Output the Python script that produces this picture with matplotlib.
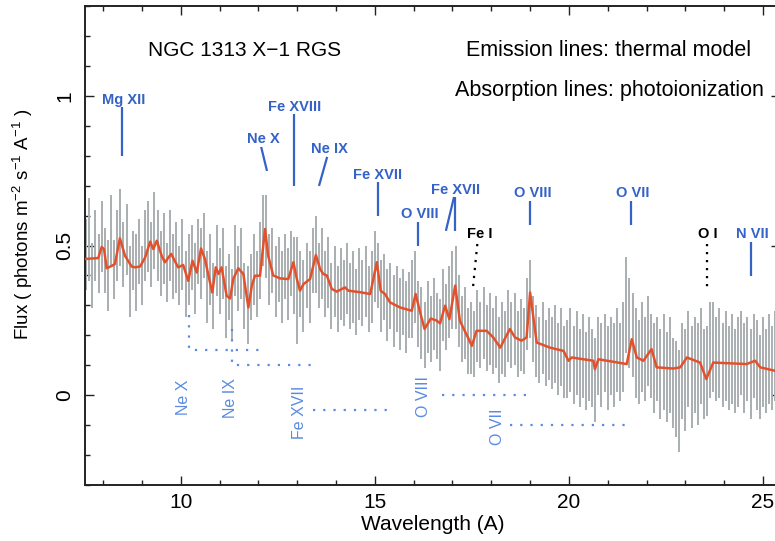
import matplotlib
matplotlib.use('Agg')
import matplotlib.pyplot as plt
import numpy as np

plt.rcParams['font.family'] = ['Liberation Sans', 'DejaVu Sans']
plt.rcParams['mathtext.fontset'] = 'custom'
plt.rcParams['mathtext.rm'] = 'Liberation Sans'
plt.rcParams['mathtext.default'] = 'regular'

# RGS data: bin centres start at 7.56 A, 0.08 A apart
wl_start = 7.56
wl_step = 0.08
flux = [
    0.47, 0.52, 0.40, 0.50, 0.44, 0.53, 0.45, 0.40, 0.55, 0.42,
    0.50, 0.56, 0.47, 0.52, 0.38, 0.45, 0.41, 0.48, 0.40, 0.50,
    0.53, 0.47, 0.55, 0.50, 0.44, 0.49, 0.41, 0.50, 0.43, 0.46,
    0.40, 0.47, 0.37, 0.42, 0.46, 0.39, 0.48, 0.44, 0.50, 0.36,
    0.42, 0.33, 0.45, 0.38, 0.44, 0.31, 0.36, 0.30, 0.45, 0.39,
    0.44, 0.33, 0.30, 0.36, 0.42, 0.37, 0.45, 0.55, 0.53, 0.42,
    0.45, 0.38, 0.42, 0.36, 0.43, 0.37, 0.44, 0.40, 0.35, 0.37,
    0.33, 0.40, 0.36, 0.45, 0.47, 0.40, 0.44, 0.37, 0.41, 0.33,
    0.38, 0.32, 0.37, 0.34, 0.39, 0.33, 0.36, 0.31, 0.37, 0.34,
    0.38, 0.32, 0.36, 0.43, 0.40, 0.33, 0.36, 0.30, 0.33, 0.28,
    0.32, 0.27, 0.31, 0.26, 0.30, 0.32, 0.36, 0.27, 0.24, 0.20,
    0.26, 0.22, 0.27, 0.23, 0.20, 0.30, 0.26, 0.31, 0.35, 0.36,
    0.28, 0.22, 0.24, 0.18, 0.19, 0.17, 0.23, 0.20, 0.24, 0.19,
    0.22, 0.18, 0.21, 0.15, 0.19, 0.17, 0.23, 0.20, 0.22, 0.17,
    0.20, 0.18, 0.27, 0.32, 0.22, 0.18, 0.15, 0.19, 0.14, 0.17,
    0.14, 0.17, 0.12, 0.16, 0.11, 0.12, 0.15, 0.10, 0.14, 0.09,
    0.13, 0.08, 0.12, 0.09, 0.05, 0.13, 0.10, 0.14, 0.09, 0.13,
    0.10, 0.15, 0.11, 0.16, 0.30, 0.24, 0.20, 0.14, 0.11, 0.16,
    0.12, 0.18, 0.13, 0.09, 0.12, 0.07, 0.11, 0.06, 0.10, 0.04,
    0.02, -0.02, 0.08, 0.05, 0.12, 0.06, 0.10, 0.07, 0.13, 0.07,
    0.08, 0.15, 0.16, 0.12, 0.14, 0.10, 0.13, 0.09, 0.12, 0.08,
    0.11, 0.14, 0.09, 0.12, 0.07, 0.13, 0.10, 0.06, 0.11, 0.08,
    0.12, 0.09, 0.13, 0.10,
]
flux_err = [
    0.12, 0.14, 0.11, 0.12, 0.10, 0.12, 0.11, 0.12, 0.12, 0.10,
    0.12, 0.13, 0.11, 0.12, 0.12, 0.10, 0.13, 0.11, 0.10, 0.12,
    0.12, 0.11, 0.13, 0.12, 0.11, 0.12, 0.10, 0.12, 0.11, 0.12,
    0.10, 0.12, 0.11, 0.12, 0.11, 0.12, 0.11, 0.12, 0.11, 0.12,
    0.12, 0.11, 0.12, 0.11, 0.12, 0.12, 0.11, 0.12, 0.12, 0.11,
    0.12, 0.11, 0.13, 0.11, 0.12, 0.11, 0.13, 0.12, 0.14, 0.12,
    0.11, 0.12, 0.11, 0.12, 0.11, 0.12, 0.11, 0.13, 0.18, 0.11,
    0.12, 0.11, 0.12, 0.11, 0.13, 0.11, 0.12, 0.11, 0.12, 0.11,
    0.12, 0.11, 0.12, 0.11, 0.12, 0.11, 0.12, 0.11, 0.12, 0.11,
    0.12, 0.11, 0.12, 0.12, 0.11, 0.12, 0.11, 0.12, 0.11, 0.12,
    0.11, 0.12, 0.11, 0.12, 0.11, 0.13, 0.12, 0.11, 0.12, 0.11,
    0.12, 0.11, 0.12, 0.11, 0.12, 0.12, 0.11, 0.12, 0.13, 0.14,
    0.12, 0.11, 0.12, 0.11, 0.12, 0.11, 0.12, 0.11, 0.12, 0.11,
    0.12, 0.11, 0.12, 0.11, 0.12, 0.11, 0.12, 0.11, 0.12, 0.11,
    0.12, 0.11, 0.12, 0.13, 0.11, 0.12, 0.11, 0.12, 0.11, 0.12,
    0.12, 0.13, 0.12, 0.13, 0.12, 0.13, 0.14, 0.13, 0.14, 0.13,
    0.14, 0.13, 0.14, 0.13, 0.14, 0.13, 0.14, 0.13, 0.14, 0.13,
    0.14, 0.14, 0.13, 0.15, 0.16, 0.15, 0.14, 0.15, 0.14, 0.15,
    0.14, 0.15, 0.14, 0.15, 0.14, 0.15, 0.16, 0.15, 0.16, 0.15,
    0.16, 0.17, 0.16, 0.17, 0.16, 0.17, 0.16, 0.17, 0.16, 0.15,
    0.15, 0.16, 0.15, 0.14, 0.15, 0.14, 0.15, 0.14, 0.15, 0.14,
    0.15, 0.14, 0.15, 0.14, 0.15, 0.14, 0.15, 0.14, 0.15, 0.14,
    0.15, 0.14, 0.15, 0.14,
]

# best-fit model curve
model_wl = [
    7.53, 7.87, 7.96, 8.02, 8.09, 8.22, 8.30, 8.43, 8.56, 8.73,
    8.82, 8.95, 9.08, 9.21, 9.29, 9.38, 9.51, 9.59, 9.75, 9.93,
    10.06, 10.19, 10.30, 10.41, 10.52, 10.62, 10.75, 10.81, 10.90, 10.97,
    11.05, 11.18, 11.27, 11.35, 11.48, 11.61, 11.74, 11.83, 11.91, 12.04,
    12.17, 12.25, 12.38, 12.56, 12.77, 12.90, 12.99, 13.07, 13.16, 13.33,
    13.48, 13.59, 13.67, 13.76, 13.89, 14.02, 14.23, 14.32, 14.62, 14.88,
    15.05, 15.15, 15.26, 15.39, 15.65, 15.95, 16.05, 16.16, 16.28, 16.44,
    16.58, 16.68, 16.81, 16.92, 17.07, 17.19, 17.50, 17.62, 17.88, 18.05,
    18.23, 18.48, 18.61, 18.78, 18.91, 19.00, 19.17, 19.51, 19.86, 19.99,
    20.07, 20.63, 20.67, 20.76, 21.49, 21.62, 21.75, 21.92, 22.13, 22.26,
    22.69, 22.87, 23.04, 23.38, 23.54, 23.72, 24.58, 24.80, 24.93, 25.33,
    25.45,
]
model_flux = [
    0.455, 0.458, 0.495, 0.488, 0.424, 0.432, 0.438, 0.524, 0.466, 0.430,
    0.427, 0.430, 0.460, 0.513, 0.488, 0.516, 0.464, 0.444, 0.472, 0.427,
    0.435, 0.382, 0.449, 0.410, 0.490, 0.455, 0.377, 0.343, 0.427, 0.405,
    0.427, 0.332, 0.323, 0.388, 0.424, 0.405, 0.293, 0.366, 0.399, 0.399,
    0.555, 0.466, 0.400, 0.390, 0.388, 0.444, 0.388, 0.349, 0.371, 0.388,
    0.468, 0.421, 0.405, 0.400, 0.355, 0.346, 0.360, 0.349, 0.344, 0.338,
    0.444, 0.349, 0.338, 0.310, 0.293, 0.282, 0.338, 0.280, 0.221, 0.256,
    0.250, 0.240, 0.299, 0.254, 0.366, 0.249, 0.165, 0.215, 0.215, 0.193,
    0.159, 0.221, 0.193, 0.182, 0.193, 0.343, 0.176, 0.159, 0.148, 0.115,
    0.126, 0.115, 0.087, 0.120, 0.104, 0.187, 0.126, 0.115, 0.154, 0.093,
    0.089, 0.093, 0.126, 0.109, 0.054, 0.109, 0.104, 0.115, 0.093, 0.081,
    0.078,
]

# emission lines (thermal model): label, label position, marker segment
em_names = ['Mg XII', 'Fe XVIII', 'Ne X', 'Ne IX', 'Fe XVII', 'O VIII',
            'Fe XVII', 'O VIII', 'O VII', 'N VII']
em_text_xy = [(8.53, 0.987), (12.92, 0.963), (12.12, 0.856), (13.82, 0.823),
              (15.08, 0.737), (16.17, 0.605), (17.08, 0.686), (19.06, 0.676),
              (21.65, 0.676), (24.73, 0.538)]
em_segments = [
    [(8.48, 0.963), (8.48, 0.80)],
    [(12.92, 0.94), (12.92, 0.70)],
    [(12.07, 0.829), (12.22, 0.749)],
    [(13.77, 0.796), (13.56, 0.699)],
    [(15.08, 0.712), (15.08, 0.599)],
    [(16.11, 0.579), (16.11, 0.498)],
    [(17.07, 0.662), (17.07, 0.549)],
    [(17.04, 0.662), (16.83, 0.549)],
    [(19.00, 0.649), (19.00, 0.569)],
    [(21.59, 0.649), (21.59, 0.569)],
    [(24.69, 0.512), (24.69, 0.398)],
]

# neutral edges (black dotted)
edge_names = ['Fe I', 'O I']
edge_text_xy = [(17.71, 0.538), (23.59, 0.538)]
edge_segments = [
    [(17.64, 0.505), (17.52, 0.349)],
    [(23.55, 0.505), (23.55, 0.348)],
]

# absorption lines (photoionization): rotated labels and dotted brackets
abs_names = ['Ne X', 'Ne IX', 'Fe XVII', 'O VIII', 'O VII']
abs_text_xy = [(10.08, -0.008), (11.27, -0.008), (13.07, -0.057),
               (16.25, -0.003), (18.15, -0.107)]
abs_paths = [
    [(10.21, 0.268), (10.21, 0.151), (12.17, 0.151)],
    [(11.33, 0.221), (11.33, 0.10), (13.50, 0.10)],
    [(13.41, -0.049), (15.33, -0.049)],
    [(16.72, 0.0), (18.91, 0.0)],
    [(18.48, -0.099), (21.62, -0.099)],
]

BLUE = '#3462c6'
BLUE_DOT = '#5a8be0'

fig = plt.figure(figsize=(7.75, 5.41), dpi=100)
ax = fig.add_axes([85 / 775, 56 / 541, 695 / 775, 479 / 541])

wl = wl_start + wl_step * np.arange(len(flux))
flux = np.array(flux)
flux_err = np.array(flux_err)
ax.vlines(wl, flux - flux_err, flux + flux_err, color='#a9afb1', lw=1.4, zorder=2)
ax.plot(model_wl, model_flux, color='#e3512c', lw=1.8, zorder=3)

for name, (tx, ty) in zip(em_names, em_text_xy):
    ax.text(tx, ty, name, color=BLUE, fontsize=10.5, fontweight='bold',
            ha='center', va='center')
for seg in em_segments:
    xs, ys = zip(*seg)
    ax.plot(xs, ys, color=BLUE, lw=1.6, solid_capstyle='butt')

for name, (tx, ty) in zip(edge_names, edge_text_xy):
    ax.text(tx, ty, name, color='black', fontsize=10.5, fontweight='bold',
            ha='center', va='center')
for seg in edge_segments:
    xs, ys = zip(*seg)
    ax.plot(xs, ys, color='black', lw=1.6, linestyle=(0, (1, 2.6)))

for name, (tx, ty) in zip(abs_names, abs_text_xy):
    ax.text(tx, ty, name, color=BLUE_DOT, fontsize=11.5, ha='center',
            va='center', rotation=90)
for path in abs_paths:
    xs, ys = zip(*path)
    ax.plot(xs, ys, color=BLUE_DOT, lw=1.6, linestyle=(0, (1, 3.6)))

ax.text(0.230, 0.908, 'NGC 1313 X\u22121 RGS', transform=ax.transAxes,
        fontsize=15, ha='center', va='center')
ax.text(0.753, 0.908, 'Emission lines: thermal model', transform=ax.transAxes,
        fontsize=15.5, ha='center', va='center')
ax.text(0.754, 0.823, 'Absorption lines: photoionization', transform=ax.transAxes,
        fontsize=15.5, ha='center', va='center')

ax.set_xlim(7.53, 25.44)
ax.set_ylim(-0.3, 1.3)
ax.set_xticks([10, 15, 20, 25])
ax.set_xticks(np.arange(8, 26), minor=True)
ax.set_yticks([0, 0.5, 1])
ax.set_yticklabels(['0', '0.5', '1'], rotation=90, va='center')
ax.set_yticks(np.arange(-0.3, 1.31, 0.1), minor=True)
ax.tick_params(which='both', direction='in', top=True, right=True,
               labelsize=15, width=1.0, color='#222222')
ax.tick_params(which='major', length=6.5)
ax.tick_params(which='minor', length=3.5)
ax.tick_params(axis='x', pad=6)
ax.tick_params(axis='y', pad=8)
for sp in ax.spines.values():
    sp.set_linewidth(1.4)
    sp.set_color('#222222')

ax.set_xlabel('Wavelength (A)', fontsize=15, labelpad=2)
ax.set_ylabel('Flux ( photons m$^{-2}$ s$^{-1}$ A$^{-1}$ )', fontsize=13.5)
ax.yaxis.set_label_coords(-0.072, 0.543)

fig.savefig('out.png', dpi=100)
